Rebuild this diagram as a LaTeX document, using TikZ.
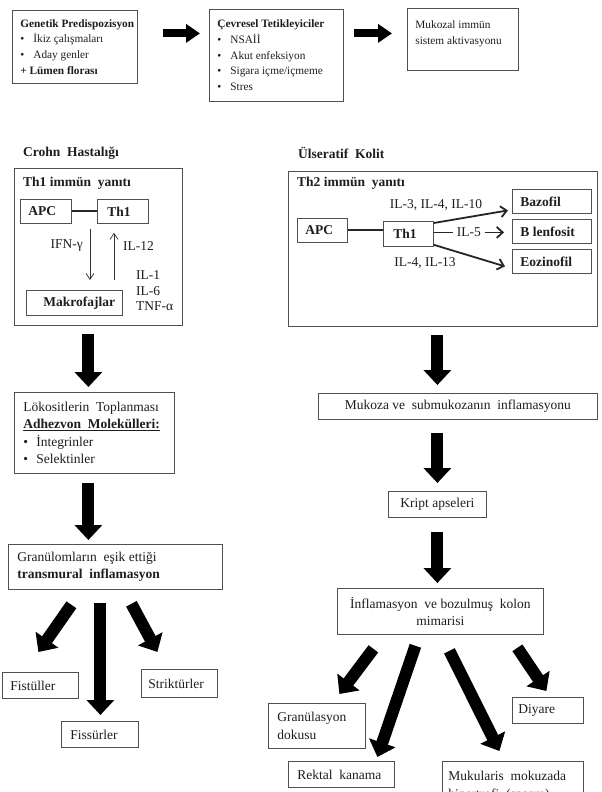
\documentclass[tikz,border=0pt]{standalone}
\usepackage{fontspec}
\setmainfont{Liberation Serif}
\usetikzlibrary{arrows.meta,calc}
\definecolor{bord}{HTML}{505050}
\definecolor{txt}{HTML}{1E1E1E}
\newcommand{\mainf}{\fontsize{13.5}{17.5}\selectfont}
\newcommand{\topf}{\fontsize{11.3}{15.7}\selectfont}
\newcommand{\bul}{\makebox[13pt][l]{\textbullet}}
\newcommand{\dsp}{\ \ }
\newcommand{\btl}[3]{\parbox{#1}{\raggedright\leftskip=#2\relax #3}}
\newcommand{\btc}[2]{\parbox{#1}{\centering #2}}
\begin{document}
\begin{tikzpicture}[x=1pt,y=-1pt,
  box/.style={draw=bord, line width=0.8pt, inner sep=0pt, anchor=north west, text=txt, font=\mainf},
  lbl/.style={inner sep=0pt, text=txt, font=\mainf},
  bigarrow/.style={line width=12pt, -{Triangle[width=27pt,length=15pt]}, black},
  toparrow/.style={line width=8pt, -{Triangle[width=18pt,length=14pt]}, black},
  medarrow/.style={line width=1.8pt, -{Straight Barb[length=6pt,width=11pt]}, black!85},
  thinarrow/.style={line width=0.7pt, -{Straight Barb[length=6pt,width=8pt]}, black!80},
  link/.style={line width=2pt, black!85}]
\useasboundingbox (0,0) rectangle (602,792);
\fill[white] (0,0) rectangle (602,792);
\clip (0,0) rectangle (602,792);

% top row
\node[box, minimum width=125pt, minimum height=73pt] (gen) at (12,10)
  {\btl{125pt}{8pt}{\topf\textbf{Genetik Predispozisyon}\\\bul İkiz çalışmaları\\\bul Aday genler\\\textbf{+ Lümen florası}}};
\node[box, minimum width=134pt, minimum height=92pt] (cev) at (209,9)
  {\btl{134pt}{8pt}{\topf\textbf{Çevresel Tetikleyiciler}\\\bul NSAİİ\\\bul Akut enfeksiyon\\\bul Sigara içme/içmeme\\\bul Stres}};
\node[box, minimum width=111pt, minimum height=62pt] (muk) at (407,8)
  {\btl{111pt}{8pt}{\topf Mukozal immün\\sistem aktivasyonu\rule[-14pt]{0pt}{0pt}}};
\coordinate (a1s) at ([shift={(25,-13.5)}]gen.east);
\draw[toparrow] (a1s) -- ([xshift=-9pt]a1s -| cev.west);
\coordinate (a2s) at ([shift={(10,-22)}]cev.east);
\draw[toparrow] (a2s) -- ([xshift=-15pt]a2s -| muk.west);

% Crohn
\node[lbl, font=\mainf\bfseries, anchor=west] (crohnt) at (23,153) {Crohn\dsp Hastalığı};
\node[box, minimum width=168pt, minimum height=157pt] (crohn) at (14,168) {};
\node[lbl, font=\mainf\bfseries, anchor=west] (th1t) at (23,183) {Th1 immün\dsp yanıtı};
\node[box, minimum width=51pt, minimum height=24pt] (apc1) at (20,199) {\btl{51pt}{8pt}{\bfseries APC}};
\node[box, minimum width=51pt, minimum height=24pt] (th1c) at (97,199) {\btl{51pt}{10pt}{\bfseries Th1}};
\draw[link] (apc1.east) -- (apc1.east -| th1c.west);
\node[box, minimum width=96pt, minimum height=25pt] (makro) at (26,290) {\btl{96pt}{17pt}{\bfseries Makrofajlar}};
\draw[thinarrow] ([shift={(-7,5)}]th1c.south west) -- ([shift={(64,-10)}]makro.north west);
\draw[thinarrow] ([shift={(88,-10)}]makro.north west) -- ([shift={(17,9)}]th1c.south west);
\node[lbl, anchor=east] (ifn) at (83,246) {IFN-γ};
\node[lbl, anchor=west] (il12) at (123,246) {IL-12};
\node[lbl, anchor=west, align=left, font=\fontsize{13.5}{15.5}\selectfont] (ilg) at (136,291) {IL-1\\IL-6\\TNF-α};

% UC
\node[lbl, font=\mainf\bfseries, anchor=west] (uct) at (298,153) {Ülseratif\dsp Kolit};
\node[box, minimum width=309pt, minimum height=155pt] (uc) at (288,171) {};
\node[lbl, font=\mainf\bfseries, anchor=west] (th2t) at (297,183) {Th2 immün\dsp yanıtı};
\node[box, minimum width=50pt, minimum height=24pt] (apc2) at (297,218) {\btl{50pt}{8pt}{\bfseries APC}};
\node[box, minimum width=50pt, minimum height=25pt] (th2) at (383,221) {\btl{50pt}{10pt}{\bfseries Th1}};
\draw[link] (apc2.east) -- (apc2.east -| th2.west);
\node[box, minimum width=79pt, minimum height=24pt] (baz) at (512,189) {\btl{79pt}{8pt}{\bfseries Bazofil}};
\node[box, minimum width=79pt, minimum height=24pt] (blen) at (512,219) {\btl{79pt}{8pt}{\bfseries B lenfosit}};
\node[box, minimum width=79pt, minimum height=24pt] (eoz) at (512,249) {\btl{79pt}{8pt}{\bfseries Eozinofil}};
\draw[medarrow] ([shift={(0,2)}]th2.north east) -- ([shift={(-4,9)}]baz.west);
\draw[medarrow] ([shift={(0,-1.5)}]th2.east) -- node[lbl, fill=white, inner xsep=4pt, inner ysep=2pt] (il5) {IL-5} ([shift={(-8,1)}]blen.west);
\draw[medarrow] ([shift={(0,-2)}]th2.south east) -- ([shift={(-7,5)}]eoz.west);
\node[lbl] (il3) at (436,205) {IL-3, IL-4, IL-10};
\node[lbl] (il4) at (425,263) {IL-4, IL-13};

% Crohn flow
\node[box, minimum width=160pt, minimum height=81pt] (lok) at (14,392)
  {\btl{160pt}{9pt}{Lökositlerin\dsp Toplanması\\\textbf{\underline{Adhezvon\dsp Molekülleri:}}\\\bul İntegrinler\\\bul Selektinler}};
\node[box, minimum width=214pt, minimum height=45pt] (gran) at (8,544)
  {\btl{214pt}{9pt}{Granülomların\dsp eşik ettiği\\\textbf{transmural\dsp inflamasyon}}};
\node[box, minimum width=76pt, minimum height=26pt] (fist) at (2,672) {\btl{76pt}{8pt}{Fistüller}};
\node[box, minimum width=76pt, minimum height=28pt] (strik) at (141,669) {\btl{76pt}{7pt}{Striktürler}};
\node[box, minimum width=77pt, minimum height=26pt] (fiss) at (61,721) {\btl{77pt}{9pt}{Fissürler}};
\draw[bigarrow] ([shift={(-10,8)}]crohn.south) -- ([shift={(-6,-5)}]lok.north);
\draw[bigarrow] ([shift={(-6,9)}]lok.south) -- ([shift={(-27,-4)}]gran.north);
\draw[bigarrow] ([shift={(-44,15)}]gran.south) -- ([shift={(-2,-20)}]fist.north);
\draw[bigarrow] ([shift={(-15,13)}]gran.south) -- ([shift={(0.5,-6)}]fiss.north);
\draw[bigarrow] ([shift={(16,14)}]gran.south) -- ([shift={(-22,-17)}]strik.north);

% UC flow
\node[box, minimum width=279pt, minimum height=26pt] (mukoza) at (318,393) {\btc{279pt}{Mukoza ve\dsp submukozanın\dsp inflamasyonu}};
\node[box, minimum width=98pt, minimum height=26pt] (kript) at (388,491) {\btc{98pt}{Kript apseleri}};
\node[box, minimum width=206pt, minimum height=46pt] (inf) at (337,588) {\btc{206pt}{İnflamasyon\dsp ve bozulmuş\dsp kolon\\mimarisi}};
\node[box, minimum width=97pt, minimum height=45pt] (grl) at (268,703) {\btl{97pt}{9pt}{Granülasyon\\dokusu}};
\node[box, minimum width=71pt, minimum height=26pt] (diy) at (512,697) {\btl{71pt}{6pt}{Diyare}};
\node[box, minimum width=106pt, minimum height=26pt] (rek) at (288,761) {\btl{106pt}{9pt}{Rektal\dsp kanama}};
\node[box, minimum width=141pt, minimum height=50pt] (mkl) at (442,761) {\btl{141pt}{6pt}{Mukularis\dsp mokuzada\\hipertrofi\dsp (spazm)}};
\draw[bigarrow] ([shift={(-5.5,8)}]uc.south) -- ([shift={(-20.5,-8)}]mukoza.north);
\draw[bigarrow] ([shift={(-20.5,13)}]mukoza.south) -- ([shift={(0,-8)}]kript.north);
\draw[bigarrow] ([shift={(0,14)}]kript.south) -- ([shift={(-3,-5)}]inf.north);
\draw[bigarrow] ([shift={(-67,14)}]inf.south) -- ([shift={(22.5,-9)}]grl.north);
\draw[bigarrow] ([shift={(-25,11)}]inf.south) -- ([shift={(36,-4)}]rek.north);
\draw[bigarrow] ([shift={(9,16)}]inf.south) -- ([shift={(-13.5,-10)}]mkl.north);
\draw[bigarrow] ([shift={(77,13)}]inf.south) -- ([shift={(-1.5,-6)}]diy.north);
\end{tikzpicture}
\end{document}
